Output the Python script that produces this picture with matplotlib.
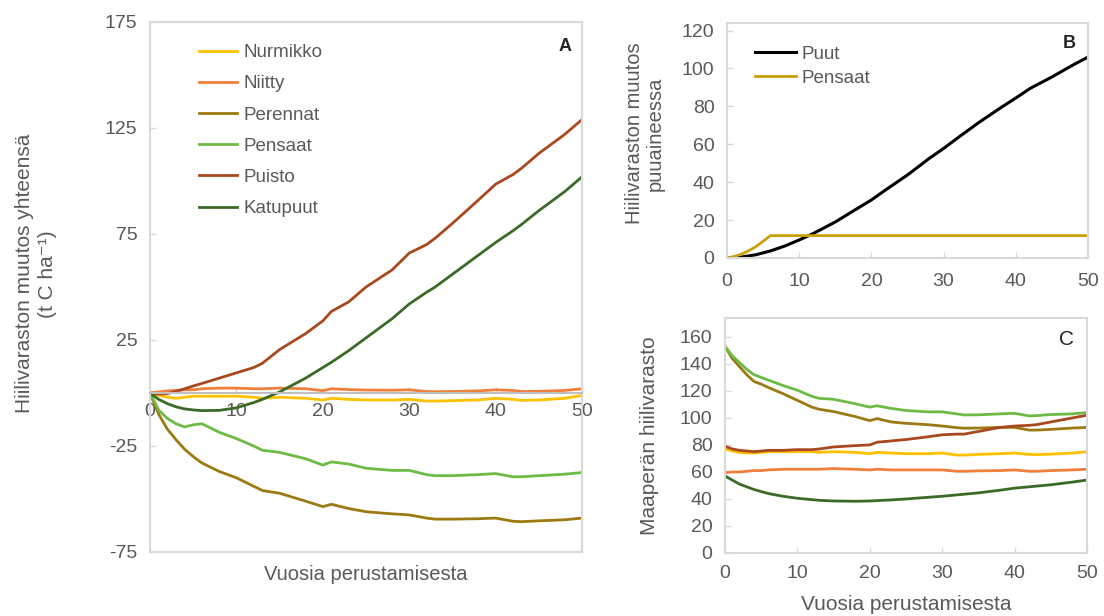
import matplotlib
matplotlib.use("Agg")
import matplotlib.pyplot as plt
from matplotlib.patches import Rectangle

plt.rcParams["font.family"] = ["Liberation Sans", "DejaVu Sans"]
plt.rcParams["axes.unicode_minus"] = False

# --- data ---
names = ["Nurmikko", "Niitty", "Perennat", "Pensaat", "Puisto", "Katupuut"]
colors = ["#FFC000", "#F07F3C", "#9C7A12", "#6DBB45", "#A9481E", "#3A6B26"]

yrs = [0, 1, 2, 3, 4, 5, 6, 8, 10, 12, 13, 15, 18, 20, 21, 23, 25, 28, 30,
       32, 33, 35, 38, 40, 42, 43, 45, 48, 50]

# A: total change (t C / ha)
a_nurmikko = [0, -1, -2, -2.5, -2, -1.5, -1.5, -1.5, -1.5, -2, -2.5, -2, -2.5,
              -3.3, -2.5, -3, -3.3, -3.3, -3, -3.8, -3.8, -3.6, -3.3, -2.5,
              -3, -3.5, -3.3, -2.5, -1.2]
a_niitty = [0, 0.5, 1, 1.2, 1.5, 1.5, 2, 2.3, 2.3, 2, 2, 2.3, 2, 1.1, 2, 1.6,
            1.4, 1.3, 1.5, 0.7, 0.6, 0.7, 1, 1.5, 1.2, 0.7, 0.8, 1.2, 2]
a_perennat = [0, -10, -17, -22, -26.5, -30, -33, -37, -40, -44, -46, -47.3,
              -51, -53.6, -52.5, -54.5, -56, -57, -57.5, -59, -59.5, -59.5,
              -59.3, -59, -60.5, -60.7, -60.3, -59.8, -59]
a_pensaat = [0, -8, -12, -14.5, -16, -15, -14.5, -18.5, -21.5, -25, -27, -28,
             -31, -34, -32.5, -33.5, -35.5, -36.5, -36.5, -38.5, -39, -39,
             -38.5, -38, -39.5, -39.5, -39, -38.3, -37.5]
a_puisto = [0, -0.5, -0.3, 0.8, 2, 3.3, 4.5, 7, 9.5, 12, 14, 20.5, 28, 34,
            38.5, 43, 50, 58, 66, 70, 73, 80, 91, 98.5, 103, 106, 113, 122, 129]
a_katupuut = [0, -3, -5, -6.5, -7.5, -8, -8.3, -8.2, -7, -4.5, -3, 0.5, 7, 12,
              14.5, 20, 26, 35, 42, 47.5, 50, 56, 65, 71, 76.5, 79.5, 86, 95,
              102]

# B: change in woody biomass
b_yrs_puut = [0, 2, 4, 6, 8, 10, 12, 15, 18, 20, 22, 25, 28, 30, 32, 35, 38,
              40, 42, 45, 48, 50]
b_puut = [0, 0.5, 1.7, 3.7, 6.3, 9.5, 13, 19, 26, 30.6, 36, 43.8, 52.5, 57.8,
          63.5, 71.8, 79.5, 84.4, 89.5, 95.5, 102, 106]
b_yrs_pensaat = [0, 1, 2, 3, 4, 5, 6, 50]
b_pensaat = [0, 0.8, 2, 3.8, 6, 8.8, 11.8, 11.8]

# C: soil carbon stock
c_nurmikko = [77, 75.5, 74.5, 74, 74, 74.5, 75, 75, 75, 75, 74.5, 75, 74.5,
              73.5, 74.5, 74, 73.5, 73.5, 74, 72.5, 72.5, 73, 73.5, 74, 73,
              72.8, 73.2, 74, 75]
c_niitty = [59.5, 60, 60, 60.5, 61, 61, 61.5, 62, 62, 62, 62, 62.5, 62, 61.5,
            62, 61.5, 61.5, 61.5, 61.5, 60.5, 60.5, 60.8, 61, 61.5, 60.5,
            60.5, 61, 61.5, 62]
c_perennat = [153, 144, 138, 132, 127, 125, 122.5, 118, 113, 108, 106.4, 104.7,
              101, 98, 99.5, 97, 96, 95, 94, 92.8, 92.4, 92.5, 93, 93, 91, 91,
              91.5, 92.5, 93]
c_pensaat = [153, 146, 141, 136, 132, 130, 128, 124, 120.5, 116, 114.5, 113.8,
             110.5, 108, 109, 107, 105.5, 104.5, 104.5, 103, 102.2, 102.3, 103,
             103.4, 101.5, 101.7, 102.5, 103, 104]
c_puisto = [79, 77, 76, 75.5, 75, 75.5, 76, 76, 76.5, 76.5, 77, 78.5, 79.5, 80,
            82, 83, 84, 86, 87.5, 88, 88, 90, 93, 94, 94.5, 95, 97, 100, 102]
c_katupuut = [57, 54, 51, 49, 47, 45.5, 44, 42, 40.5, 39.5, 39, 38.5, 38.3,
              38.5, 38.8, 39.3, 40, 41.2, 42, 43, 43.5, 44.5, 46.5, 48, 49,
              49.5, 50.5, 52.5, 54]

a_series = [a_nurmikko, a_niitty, a_perennat, a_pensaat, a_puisto, a_katupuut]
c_series = [c_nurmikko, c_niitty, c_perennat, c_pensaat, c_puisto, c_katupuut]

TXT = "#595959"
SPINE = "#D9D9D9"
LW = 2.0
FS = 14

fig = plt.figure(figsize=(11.04, 6.16), dpi=100)
ax_a = fig.add_axes([0.1359, 0.1039, 0.3913, 0.8604])
ax_b = fig.add_axes([0.6585, 0.5812, 0.3270, 0.3815])
ax_c = fig.add_axes([0.6567, 0.1023, 0.3279, 0.3815])


def style(ax, xpad=7):
    for s in ax.spines.values():
        s.set_color(SPINE)
        s.set_linewidth(1.5)
    ax.tick_params(colors=TXT, labelsize=FS, direction="in", length=4,
                   width=1, color=SPINE)
    ax.tick_params(axis="y", pad=9)
    ax.tick_params(axis="x", pad=xpad)


# --- panel A ---
for name, col, vals in zip(names, colors, a_series):
    ax_a.plot(yrs, vals, color=col, lw=LW, label=name)
ax_a.set_xlim(0, 50)
ax_a.set_ylim(-75, 175)
ax_a.set_yticks([-75, -25, 25, 75, 125, 175])
ax_a.set_xticks([0, 10, 20, 30, 40, 50])
style(ax_a)
ax_a.spines["bottom"].set_position(("data", 0))
ax_a.spines["bottom"].set_color("#BFBFBF")
ax_a.add_patch(Rectangle((0, 0), 1, 1, transform=ax_a.transAxes, fill=False,
                         ec=SPINE, lw=1.5, clip_on=False, zorder=0))
ax_a.set_xlabel("Vuosia perustamisesta", color=TXT, fontsize=14.5)
ax_a.xaxis.set_label_coords(0.5, -0.025)
ax_a.set_ylabel("Hiilivaraston muutos yhteensä\n(t C ha⁻¹)", color=TXT,
                fontsize=15, linespacing=1.3)
ax_a.yaxis.set_label_coords(-0.215, 0.525)
ax_a.text(0.975, 0.97, "A", transform=ax_a.transAxes, ha="right", va="top",
          fontsize=13, fontweight="bold", color="#262626")
leg = ax_a.legend(loc="upper left", bbox_to_anchor=(0.075, 0.99), frameon=False,
                  fontsize=13.5, handlelength=2.0, labelspacing=0.75,
                  handletextpad=0.35)
for t in leg.get_texts():
    t.set_color(TXT)

# --- panel B ---
ax_b.plot(b_yrs_puut, b_puut, color="black", lw=2.2, label="Puut")
ax_b.plot(b_yrs_pensaat, b_pensaat, color="#C9A00A", lw=LW, label="Pensaat")
ax_b.set_xlim(0, 50)
ax_b.set_ylim(0, 124)
ax_b.set_yticks(range(0, 121, 20))
ax_b.set_xticks(range(0, 51, 10))
style(ax_b, xpad=11)
ax_b.set_ylabel("Hiilivaraston muutos\npuuaineessa", color=TXT, fontsize=14.5,
                linespacing=1.15)
ax_b.yaxis.set_label_coords(-0.172, 0.53)
ax_b.text(0.965, 0.95, "B", transform=ax_b.transAxes, ha="right", va="top",
          fontsize=13, fontweight="bold", color="#262626")
leg = ax_b.legend(loc="upper left", bbox_to_anchor=(0.03, 0.975), frameon=False,
                  fontsize=13.5, handlelength=2.2, labelspacing=0.35,
                  handletextpad=0.3)
for t in leg.get_texts():
    t.set_color(TXT)

# --- panel C ---
for name, col, vals in zip(names, colors, c_series):
    ax_c.plot(yrs, vals, color=col, lw=LW)
ax_c.set_xlim(0, 50)
ax_c.set_ylim(0, 174)
ax_c.set_yticks(range(0, 161, 20))
ax_c.set_xticks(range(0, 51, 10))
style(ax_c, xpad=9)
ax_c.set_xlabel("Vuosia perustamisesta", color=TXT, fontsize=15, labelpad=9)
ax_c.set_ylabel("Maaperän hiilivarasto", color=TXT, fontsize=15)
ax_c.yaxis.set_label_coords(-0.183, 0.5)
ax_c.text(0.965, 0.95, "C", transform=ax_c.transAxes, ha="right", va="top",
          fontsize=15, color="#262626")

fig.savefig("out.png", dpi=100)
